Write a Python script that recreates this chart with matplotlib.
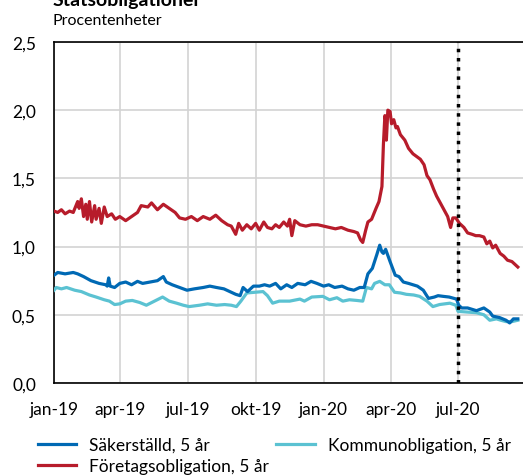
import pandas as pd
import matplotlib.pyplot as plt

plt.rcParams['font.family'] = ['Lato', 'DejaVu Sans']

# days since 2019-01-01
start = pd.Timestamp('2019-01-01')

red_day = [0, 5, 10, 15, 21, 26, 32, 34, 37, 40, 43, 45, 48, 51, 55, 57, 61, 64, 68, 72,
           78, 83, 89, 97, 105, 113, 118, 127, 132, 140, 148, 156, 164, 170, 178, 186,
           194, 202, 211, 219, 227, 235, 240, 246, 250, 255, 261, 267, 273, 278, 284,
           289, 295, 300, 305, 311, 316, 319, 322, 326, 333, 341, 349, 357, 365, 373,
           381, 389, 398, 406, 411, 415, 418, 422, 425, 430, 436, 440, 444, 446, 448,
           449, 450, 452, 455, 457, 460, 463, 465, 469, 475, 480, 486, 491, 496, 501,
           505, 509, 514, 518, 522, 528, 533, 537, 540, 544, 549, 555, 560, 566, 571,
           576, 582, 586, 590, 594, 598, 604, 609, 614, 620, 624, 628]
red_val = [1.26, 1.25, 1.27, 1.24, 1.26, 1.25, 1.33, 1.28, 1.35, 1.22, 1.31, 1.20, 1.33,
           1.18, 1.30, 1.20, 1.28, 1.17, 1.29, 1.22, 1.24, 1.20, 1.22, 1.19, 1.22, 1.25,
           1.30, 1.29, 1.32, 1.27, 1.31, 1.28, 1.25, 1.21, 1.20, 1.22, 1.19, 1.22, 1.20,
           1.23, 1.19, 1.16, 1.15, 1.09, 1.17, 1.12, 1.16, 1.13, 1.17, 1.12, 1.18, 1.14,
           1.13, 1.16, 1.14, 1.18, 1.15, 1.20, 1.08, 1.19, 1.16, 1.15, 1.16, 1.16, 1.15,
           1.14, 1.13, 1.14, 1.12, 1.11, 1.10, 1.05, 1.03, 1.12, 1.18, 1.20, 1.28, 1.33,
           1.44, 1.75, 1.96, 1.93, 1.78, 2.00, 1.99, 1.90, 1.93, 1.87, 1.88, 1.82, 1.78,
           1.72, 1.68, 1.66, 1.64, 1.60, 1.52, 1.49, 1.42, 1.37, 1.33, 1.27, 1.22, 1.14,
           1.21, 1.21, 1.17, 1.14, 1.10, 1.09, 1.08, 1.08, 1.07, 1.02, 1.04, 0.99, 1.01,
           0.95, 0.93, 0.90, 0.89, 0.87, 0.85]

blue_day = [0, 5, 15, 26, 32, 40, 50, 61, 70, 72, 74, 76, 82, 89, 97, 105, 113, 120, 130,
            140, 148, 152, 160, 170, 180, 190, 202, 211, 220, 230, 238, 246, 252, 256, 262,
            270, 278, 285, 292, 300, 307, 315, 322, 330, 340, 348, 356, 365, 372, 380, 390,
            398, 406, 414, 420, 425, 431, 437, 441, 444, 446, 449, 455, 462, 467, 473, 480,
            492, 500, 507, 515, 520, 527, 535, 545, 548, 552, 560, 566, 572, 582, 590, 594,
            603, 612, 617, 622, 628]
blue_val = [0.79, 0.81, 0.80, 0.81, 0.80, 0.78, 0.75, 0.73, 0.72, 0.71, 0.77, 0.71, 0.70,
            0.73, 0.74, 0.72, 0.745, 0.73, 0.74, 0.75, 0.78, 0.74, 0.72, 0.70, 0.68, 0.69,
            0.70, 0.71, 0.70, 0.69, 0.67, 0.65, 0.64, 0.70, 0.67, 0.71, 0.71, 0.72, 0.71,
            0.73, 0.69, 0.72, 0.70, 0.73, 0.72, 0.745, 0.73, 0.71, 0.72, 0.70, 0.71, 0.69,
            0.68, 0.70, 0.70, 0.80, 0.84, 0.94, 1.01, 0.96, 0.95, 0.98, 0.89, 0.79, 0.78,
            0.74, 0.73, 0.71, 0.68, 0.62, 0.63, 0.64, 0.635, 0.63, 0.615, 0.57, 0.55, 0.55,
            0.54, 0.53, 0.55, 0.52, 0.49, 0.48, 0.46, 0.44, 0.47, 0.47]

light_day = [0, 3, 10, 17, 28, 37, 48, 57, 68, 75, 82, 89, 97, 106, 116, 125, 136, 147,
             156, 166, 175, 183, 197, 208, 220, 231, 240, 247, 253, 261, 272, 283, 289,
             296, 305, 319, 333, 339, 349, 364, 373, 383, 391, 400, 410, 418, 423, 430,
             434, 441, 448, 454, 461, 469, 477, 487, 495, 505, 513, 522, 536, 544, 547,
             559, 572, 582, 590, 599, 605, 612, 620, 628]
light_val = [0.68, 0.70, 0.69, 0.70, 0.68, 0.67, 0.645, 0.63, 0.61, 0.60, 0.575, 0.58,
             0.60, 0.605, 0.59, 0.57, 0.60, 0.63, 0.60, 0.585, 0.57, 0.56, 0.57, 0.58,
             0.57, 0.575, 0.57, 0.56, 0.60, 0.66, 0.665, 0.67, 0.64, 0.585, 0.60, 0.60,
             0.615, 0.60, 0.63, 0.635, 0.61, 0.625, 0.60, 0.61, 0.605, 0.60, 0.70, 0.69,
             0.73, 0.745, 0.72, 0.72, 0.665, 0.66, 0.65, 0.645, 0.635, 0.60, 0.56, 0.575,
             0.585, 0.57, 0.525, 0.52, 0.515, 0.50, 0.46, 0.47, 0.46, 0.45, 0.45, 0.46]

tick_dates = ['2019-01-01', '2019-04-01', '2019-07-01', '2019-10-01',
              '2020-01-01', '2020-04-01', '2020-07-01']
tick_labels = ['jan-19', 'apr-19', 'jul-19', 'okt-19', 'jan-20', 'apr-20', 'jul-20']
yticks = [0.0, 0.5, 1.0, 1.5, 2.0, 2.5]


def to_dates(days):
    return start + pd.to_timedelta(days, unit='D')


fig = plt.figure(figsize=(5.23, 4.77), dpi=100)
ax = fig.add_axes([0.1033, 0.195, 0.8967, 0.715])

ax.plot(to_dates(light_day), light_val, color='#5BC2D2', lw=2.3,
        label='Kommunobligation, 5 år', zorder=3)
ax.plot(to_dates(blue_day), blue_val, color='#0069B4', lw=2.3,
        label='Säkerställd, 5 år', zorder=4)
ax.plot(to_dates(red_day), red_val, color='#B71C2B', lw=2.3,
        label='Företagsobligation, 5 år', zorder=5)

ax.axvline(pd.Timestamp('2020-07-01'), color='black', ls=':', lw=2.5, zorder=6)

ax.set_xlim(start, start + pd.Timedelta(days=635))
ax.set_ylim(0, 2.5)
ax.set_xticks(pd.to_datetime(tick_dates))
ax.set_xticklabels(tick_labels)
ax.set_yticks(yticks)
ax.set_yticklabels([f'{v:.1f}'.replace('.', ',') for v in yticks])
ax.tick_params(axis='both', length=0, labelsize=12.5, colors='black')
ax.tick_params(axis='y', pad=13)
ax.tick_params(axis='x', pad=13)
ax.grid(True, color='#D3D3D3', lw=1.2)
ax.set_axisbelow(True)
for s in ['left', 'bottom', 'top']:
    ax.spines[s].set_color('black')
    ax.spines[s].set_linewidth(1.2)
ax.spines['right'].set_visible(False)

fig.text(0.101, 0.987, 'Statsobligationer', fontsize=14, fontweight='bold', va='baseline')
fig.text(0.101, 0.948, 'Procentenheter', fontsize=11.5, va='baseline')

handles, labels = ax.get_legend_handles_labels()
order = [1, 2, 0]
ax.legend([handles[i] for i in order], [labels[i] for i in order],
          ncol=2, loc='upper left', bbox_to_anchor=(-0.05, -0.137), frameon=False,
          fontsize=12.5, handlelength=2.2, handletextpad=0.75, columnspacing=0.45,
          labelspacing=0.3, borderaxespad=0)

fig.savefig('out.png', dpi=100)
